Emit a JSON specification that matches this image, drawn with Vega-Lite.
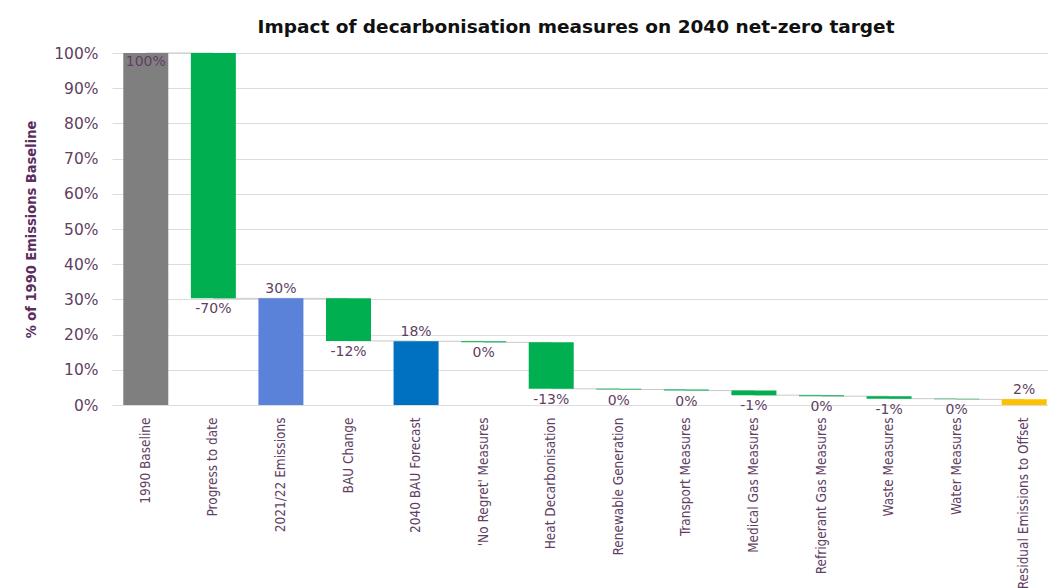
{
  "$schema": "https://vega.github.io/schema/vega-lite/v6.json",
  "width": 936,
  "height": 352,
  "autosize": {"type": "none"},
  "padding": {"left": 112, "top": 53, "right": 0, "bottom": 183},
  "background": "white",
  "title": {
    "text": "Impact of decarbonisation measures on 2040 net-zero target",
    "font": "DejaVu Sans",
    "fontSize": 18.5,
    "fontWeight": "bold",
    "color": "#111111",
    "anchor": "middle",
    "dx": -4,
    "offset": 10
  },
  "config": {
    "view": {"stroke": null},
    "axis": {"labelColor": "#5f3f63", "titleColor": "#5a2d5e"}
  },
  "datasets": {
    "steps": [
      {"cat": "1990 Baseline", "start": 0, "end": 100, "label": "100%", "kind": "baseline", "pos": "inside"},
      {"cat": "Progress to date", "start": 100, "end": 30.3, "label": "-70%", "kind": "change", "pos": "below"},
      {"cat": "2021/22 Emissions", "start": 0, "end": 30.3, "label": "30%", "kind": "current", "pos": "above"},
      {"cat": "BAU Change", "start": 30.3, "end": 18.2, "label": "-12%", "kind": "change", "pos": "below"},
      {"cat": "2040 BAU Forecast", "start": 0, "end": 18.1, "label": "18%", "kind": "forecast", "pos": "above"},
      {"cat": "'No Regret' Measures", "start": 18.1, "end": 17.8, "label": "0%", "kind": "change", "pos": "below"},
      {"cat": "Heat Decarbonisation", "start": 17.8, "end": 4.6, "label": "-13%", "kind": "change", "pos": "below"},
      {"cat": "Renewable Generation", "start": 4.6, "end": 4.4, "label": "0%", "kind": "change", "pos": "below"},
      {"cat": "Transport Measures", "start": 4.4, "end": 4.1, "label": "0%", "kind": "change", "pos": "below"},
      {"cat": "Medical Gas Measures", "start": 4.1, "end": 2.8, "label": "-1%", "kind": "change", "pos": "below"},
      {"cat": "Refrigerant Gas Measures", "start": 2.8, "end": 2.5, "label": "0%", "kind": "change", "pos": "below"},
      {"cat": "Waste Measures", "start": 2.5, "end": 1.8, "label": "-1%", "kind": "change", "pos": "below"},
      {"cat": "Water Measures", "start": 1.8, "end": 1.6, "label": "0%", "kind": "change", "pos": "below"},
      {"cat": "Residual Emissions to Offset", "start": 0, "end": 1.6, "label": "2%", "kind": "residual", "pos": "above"}
    ],
    "connectors": [
      {"from": "1990 Baseline", "to": "Progress to date", "level": 100},
      {"from": "Progress to date", "to": "2021/22 Emissions", "level": 30.3},
      {"from": "2021/22 Emissions", "to": "BAU Change", "level": 30.3},
      {"from": "BAU Change", "to": "2040 BAU Forecast", "level": 18.2},
      {"from": "2040 BAU Forecast", "to": "'No Regret' Measures", "level": 18.1},
      {"from": "'No Regret' Measures", "to": "Heat Decarbonisation", "level": 17.8},
      {"from": "Heat Decarbonisation", "to": "Renewable Generation", "level": 4.6},
      {"from": "Renewable Generation", "to": "Transport Measures", "level": 4.4},
      {"from": "Transport Measures", "to": "Medical Gas Measures", "level": 4.1},
      {"from": "Medical Gas Measures", "to": "Refrigerant Gas Measures", "level": 2.8},
      {"from": "Refrigerant Gas Measures", "to": "Waste Measures", "level": 2.5},
      {"from": "Waste Measures", "to": "Water Measures", "level": 1.8},
      {"from": "Water Measures", "to": "Residual Emissions to Offset", "level": 1.6}
    ]
  },
  "encoding": {
    "x": {
      "type": "nominal",
      "sort": null,
      "scale": {
        "domain": ["1990 Baseline", "Progress to date", "2021/22 Emissions", "BAU Change", "2040 BAU Forecast", "'No Regret' Measures", "Heat Decarbonisation", "Renewable Generation", "Transport Measures", "Medical Gas Measures", "Refrigerant Gas Measures", "Waste Measures", "Water Measures", "Residual Emissions to Offset"],
        "range": [0, 946],
        "paddingInner": 0.334,
        "paddingOuter": 0.167
      },
      "axis": {
        "title": null,
        "labelAngle": -90,
        "labelFont": "DejaVu Sans Condensed, Roboto Condensed, Roboto, sans-serif",
        "labelFontSize": 13.5,
        "labelPadding": 12,
        "ticks": false,
        "domain": false,
        "labelLimit": 200
      }
    },
    "y": {
      "type": "quantitative",
      "scale": {"domain": [0, 100], "nice": false},
      "axis": {
        "title": "% of 1990 Emissions Baseline",
        "titleFont": "DejaVu Sans Condensed, Roboto Condensed, Roboto, sans-serif",
        "titleFontSize": 14.5,
        "titleFontWeight": "bold",
        "titlePadding": 15,
        "values": [0, 10, 20, 30, 40, 50, 60, 70, 80, 90, 100],
        "labelOverlap": false,
        "labelExpr": "datum.value + '%'",
        "labelFont": "DejaVu Sans",
        "labelFontSize": 15.5,
        "labelPadding": 14,
        "ticks": false,
        "domain": false,
        "gridColor": "#dcdcdc",
        "gridWidth": 1
      }
    }
  },
  "layer": [
    {
      "data": {"name": "connectors"},
      "mark": {"type": "rule", "color": "#c9c9c9", "strokeWidth": 1},
      "encoding": {
        "x": {"field": "from", "bandPosition": 0.5},
        "x2": {"field": "to", "bandPosition": 0.5},
        "y": {"field": "level"}
      }
    },
    {
      "data": {"name": "steps"},
      "mark": {"type": "bar"},
      "encoding": {
        "x": {"field": "cat"},
        "y": {"field": "start"},
        "y2": {"field": "end"},
        "color": {
          "field": "kind",
          "type": "nominal",
          "legend": null,
          "scale": {
            "domain": ["baseline", "change", "current", "forecast", "residual"],
            "range": ["#7f7f7f", "#00b050", "#5a82d9", "#0070c0", "#ffc000"]
          }
        }
      }
    },
    {
      "data": {"name": "steps"},
      "transform": [{"filter": "datum.pos === 'below'"}],
      "mark": {"type": "text", "baseline": "top", "dy": 4, "font": "DejaVu Sans", "fontSize": 14, "color": "#5f3f63"},
      "encoding": {
        "x": {"field": "cat"},
        "y": {"field": "end"},
        "text": {"field": "label"}
      }
    },
    {
      "data": {"name": "steps"},
      "transform": [{"filter": "datum.pos === 'above'"}],
      "mark": {"type": "text", "baseline": "bottom", "dy": -2, "font": "DejaVu Sans", "fontSize": 14, "color": "#5f3f63"},
      "encoding": {
        "x": {"field": "cat"},
        "y": {"field": "end"},
        "text": {"field": "label"}
      }
    },
    {
      "data": {"name": "steps"},
      "transform": [{"filter": "datum.pos === 'inside'"}],
      "mark": {"type": "text", "baseline": "top", "dy": 2, "font": "DejaVu Sans", "fontSize": 14, "color": "#5f3f63"},
      "encoding": {
        "x": {"field": "cat"},
        "y": {"field": "end"},
        "text": {"field": "label"}
      }
    }
  ]
}
